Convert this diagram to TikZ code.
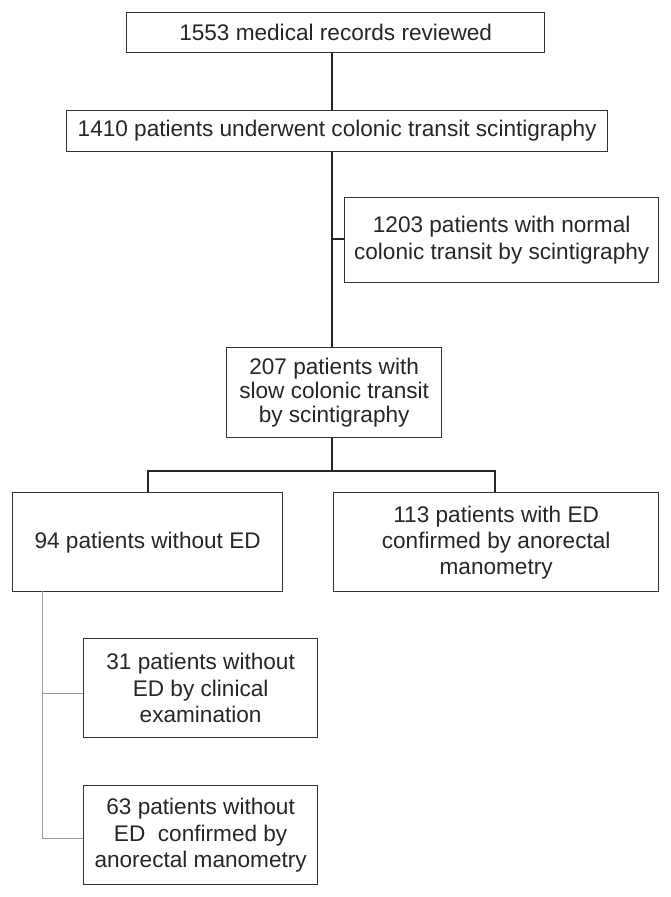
\documentclass[tikz,border=0pt]{standalone}
\usepackage{fontspec}
\setmainfont{Liberation Sans}
\begin{document}
\begin{tikzpicture}[x=1pt,y=-1pt,
  box/.style={draw=black!80,line width=1.3pt,inner sep=0pt,align=center,anchor=north west,text=black!85},
  txt/.style={font=\fontsize{22.6}{#1}\selectfont},
  conn/.style={draw=black!85,line width=1.3pt},
  gconn/.style={draw=black!40,line width=1pt}]
\useasboundingbox (0,0) rectangle (671,897);
\node[box,txt=25,minimum width=418pt,minimum height=40pt] (b1) at (126,12) {1553 medical records reviewed};
\node[box,txt=25,minimum width=541pt,minimum height=41pt] (b2) at (66,110) {1410 patients underwent colonic transit scintigraphy};
\node[box,txt=27,minimum width=314pt,minimum height=85pt] (b3) at (344,197) {1203 patients with normal\\colonic transit by scintigraphy};
\node[box,txt=24,minimum width=215pt,minimum height=90pt] (b4) at (226,347) {207 patients with\\slow colonic transit\\by scintigraphy};
\node[box,txt=26,minimum width=270pt,minimum height=99pt] (b5) at (12,492) {94 patients without ED};
\node[box,txt=26,minimum width=325pt,minimum height=99pt] (b6) at (333,492) {113 patients with ED\\confirmed by anorectal\\manometry};
\node[box,txt=26.5,minimum width=234pt,minimum height=99pt] (b7) at (83,638) {31 patients without\\ED by clinical\\examination};
\node[box,txt=26.5,minimum width=234pt,minimum height=99pt] (b8) at (83,785) {63 patients without\\ED\ \ confirmed by\\anorectal manometry};
\coordinate (v1) at (332,239);
\coordinate (br) at (332,471);
\coordinate (brl) at (148,471);
\coordinate (brr) at (495,471);
\coordinate (g0) at (42,591);
\coordinate (g1) at (42,693);
\coordinate (g2) at (42,838);
\draw[conn] (b1.south -| v1) -- (b2.north -| v1);
\draw[conn] (b2.south -| v1) -- (b4.north -| v1);
\draw[conn] (v1) -- (b3.west |- v1);
\draw[conn] (b4.south -| br) -- (br);
\draw[conn] (brl |- b5.north) -- (brl) -- (brr) -- (brr |- b6.north);
\draw[gconn] (g0) -- (g2) -- (b8.west |- g2);
\draw[gconn] (g1) -- (b7.west |- g1);
\end{tikzpicture}
\end{document}
